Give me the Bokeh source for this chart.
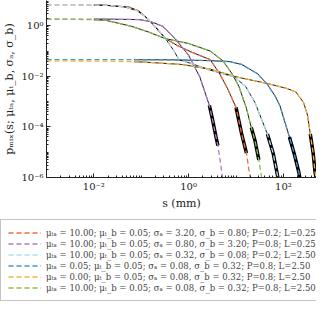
from bokeh.plotting import figure
from bokeh.layouts import column, row
from bokeh.models import (FixedTicker, CustomJSTickFormatter, Legend, LegendItem, Range1d)
from bokeh.embed import file_html
from bokeh.resources import INLINE

# ---- data ----
labels = [
    "μₜₐ = 10.00; μₜ_b = 0.05; σₐ = 3.20, σ_b = 0.80; P=0.2; L=0.25",
    "μₜₐ = 10.00; μₜ_b = 0.05; σₐ = 0.80, σ_b = 3.20; P=0.8; L=0.25",
    "μₜₐ = 10.00; μₜ_b = 0.05; σₐ = 0.32, σ_b = 0.08; P=0.2; L=2.50",
    "μₜₐ = 0.05; μₜ_b = 0.05; σₐ = 0.08, σ_b = 0.32; P=0.8; L=2.50",
    "μₜₐ = 0.00; μₜ_b = 0.05; σₐ = 0.08, σ_b = 0.32; P=0.8; L=2.50",
    "μₜₐ = 10.00; μₜ_b = 0.05; σₐ = 0.08, σ_b = 0.32; P=0.8; L=2.50",
]
colors = ["#f26c3b", "#b07cc6", "#a7dff0", "#4b96d1", "#f5b335", "#86c04a"]

or_s = [0.001, 0.01, 0.0176, 0.0561, 0.0891, 0.142, 0.225, 0.326, 0.568, 1.135, 2.86, 4.55, 6.59, 10.0, 13.2, 16.6, 19.1, 20.0]
or_p = [6.76, 6.60, 6.48, 5.44, 3.85, 1.76, 0.676, 0.310, 0.168, 0.0917, 0.0457, 0.0124, 0.00337, 5.94e-4, 5.21e-5, 9.16e-6, 1.61e-6, 1.0e-6]

pu_s = [0.001, 0.01, 0.0176, 0.0891, 0.155, 0.283, 0.518, 0.989, 1.72, 2.74, 3.14, 3.78, 4.15, 4.55, 4.99, 5.24]
pu_p = [1.84, 1.84, 1.83, 1.76, 1.48, 0.958, 0.310, 0.0706, 0.00957, 7.06e-4, 2.28e-4, 4.02e-5, 1.84e-5, 5.94e-6, 1.61e-6, 1.0e-6]

lb_s = [0.001, 0.0044, 0.01, 0.0176, 0.0445, 0.0813, 0.129, 0.205, 0.326, 0.493, 0.622, 1.135, 2.86, 9.12, 15.9, 25.2, 46.0, 60.8, 76.6]
lb_p = [6.76, 6.70, 6.60, 6.48, 5.59, 3.95, 2.09, 0.878, 0.310, 0.100, 0.0457, 0.0323, 0.0176, 0.00957, 0.00402, 9.16e-4, 5.21e-5, 9.16e-6, 1.0e-6]

bl_s = [0.001, 0.07, 0.450, 2.86, 7.23, 13.2, 29.0, 46.0, 66.7, 84.1, 134, 168, 212, 222]
bl_p = [0.0457, 0.0455, 0.0450, 0.0419, 0.0384, 0.0296, 0.0124, 0.00478, 0.00168, 7.06e-4, 4.02e-5, 9.16e-6, 1.61e-6, 1.0e-6]

ye_s = [0.001, 0.0176, 0.07, 0.112, 0.715, 2.86, 10.0, 46.0, 116, 185, 267, 322, 370, 425, 466, 488]
ye_p = [0.0409, 0.0402, 0.0378, 0.0368, 0.0296, 0.0192, 0.00957, 0.00521, 0.00337, 0.00238, 9.16e-4, 2.96e-4, 5.21e-5, 9.16e-6, 1.61e-6, 1.0e-6]

gr_s = [0.001, 0.0044, 0.01, 0.0176, 0.0615, 0.142, 0.326, 0.989, 2.86, 5.24, 8.32, 11.5, 16.6, 21.0, 25.2, 30.3, 33.3, 34.9]
gr_p = [1.84, 1.79, 1.73, 1.66, 0.958, 0.568, 0.310, 0.200, 0.100, 0.0419, 0.0124, 0.00402, 5.44e-4, 9.57e-5, 2.84e-5, 4.99e-6, 1.61e-6, 1.0e-6]

# simulated (black) curve extent and its noisy tail, in s (mm)
sim_start = [0.01, 0.01, 0.01, 0.07, 0.07, 0.01]
noise_from = [10.0, 2.74, 46.0, 134, 370, 21.0]
sim_stop = [16.6, 4.15, 76.6, 222, 488, 30.3]

curves = [(or_s, or_p), (pu_s, pu_p), (lb_s, lb_p), (bl_s, bl_p), (ye_s, ye_p), (gr_s, gr_p)]

x_major = [1e-2, 1e0, 1e2]
y_major = [1e-6, 1e-4, 1e-2, 1e0]

SERIF = "DejaVu Serif"
DASH = "5 3"

p = figure(width=316, height=216, x_axis_type="log", y_axis_type="log",
           x_range=Range1d(1e-3, 500), y_range=Range1d(1e-6, 10),
           output_backend="svg", toolbar_location=None,
           min_border_left=40, min_border_right=0, min_border_top=0,
           min_border_bottom=39)
p.outline_line_color = None
p.xgrid.visible = False
p.ygrid.visible = False

sup_code = """
const e = Math.round(Math.log10(tick));
const sup = {'-':'\u207b','0':'\u2070','1':'\u00b9','2':'\u00b2','3':'\u00b3','4':'\u2074','5':'\u2075','6':'\u2076','7':'\u2077','8':'\u2078','9':'\u2079'};
return '10' + String(e).split('').map(c => sup[c]).join('');
"""

def minors(lo, hi):
    out = []
    for k in range(lo, hi + 1):
        for m in range(1, 10):
            out.append(m * 10.0 ** k)
    return out

p.xaxis.ticker = FixedTicker(ticks=x_major, minor_ticks=minors(-3, 2))
p.yaxis.ticker = FixedTicker(ticks=y_major, minor_ticks=minors(-6, 0))
for ax in (p.xaxis[0], p.yaxis[0]):
    ax.formatter = CustomJSTickFormatter(code=sup_code)
    ax.major_tick_in = 4
    ax.major_tick_out = 0
    ax.minor_tick_in = 2
    ax.minor_tick_out = 0
    ax.axis_line_color = "#222222"
    ax.major_tick_line_color = "#222222"
    ax.minor_tick_line_color = "#222222"
    ax.major_label_text_font = SERIF
    ax.major_label_text_font_size = "10px"
    ax.major_label_text_color = "#222222"
    ax.axis_label_text_font = SERIF
    ax.axis_label_text_font_size = "11px"
    ax.axis_label_text_font_style = "normal"
    ax.axis_label_text_color = "#222222"
    ax.major_label_standoff = 3
    ax.axis_label_standoff = 2

p.xaxis.axis_label = "s (mm)"
p.yaxis.axis_label = "pₘᵢₓ(s; μₜₐ, μₜ_b, σₐ, σ_b)"

# black simulated curves with noisy tails
for (xs, ys), a, n, b in zip(curves, sim_start, noise_from, sim_stop):
    bx = [x for x in xs if a <= x <= b]
    by = [y for x, y in zip(xs, ys) if a <= x <= b]
    p.line(bx, by, color="black", line_width=0.9)
    nx = [x for x in xs if n <= x <= b]
    ny = [y for x, y in zip(xs, ys) if n <= x <= b]
    p.line(nx, ny, color="black", line_width=3.5)

for (xs, ys), c in zip(curves, colors):
    p.line(xs, ys, color=c, line_width=1.3, line_dash=DASH)

# legend panel (separate figure, no axes)
q = figure(width=316, height=85, x_axis_type="log", y_axis_type="log",
           x_range=Range1d(1e3, 1e4), y_range=Range1d(1e3, 1e4),
           x_axis_location=None, y_axis_location=None,
           output_backend="svg", toolbar_location=None,
           min_border_left=0, min_border_right=0, min_border_top=0,
           min_border_bottom=0)
q.xgrid.visible = False
q.ygrid.visible = False
q.outline_line_color = None

items = []
for (xs, ys), c, lab in zip(curves, colors, labels):
    r = q.line(xs, ys, color=c, line_width=1.3, line_dash=DASH)
    items.append(LegendItem(label=lab, renderers=[r]))

legend = Legend(items=items, location=(0, 0),
                label_text_font=SERIF, label_text_font_size="8.5px",
                glyph_width=33, glyph_height=11, label_height=11,
                spacing=0, padding=7, margin=0, label_standoff=5,
                border_line_color="#888888", border_line_width=1,
                background_fill_color="white", background_fill_alpha=1.0)
q.add_layout(legend)

open("out.html", "w").write(file_html(column(p, row(q), spacing=0), INLINE))
